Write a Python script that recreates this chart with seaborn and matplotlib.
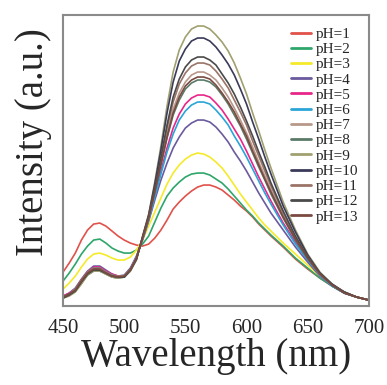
import pandas as pd
import matplotlib
matplotlib.use("Agg")
import matplotlib.pyplot as plt
import seaborn as sns

# -------------------------------
# Spectra (arbitrary intensity units)
# -------------------------------
wavelength = [450, 455, 460, 465, 470, 475, 480, 485, 490, 495,
              500, 505, 510, 515, 520, 525, 530, 535, 540, 545,
              550, 555, 560, 565, 570, 575, 580, 585, 590, 595,
              600, 605, 610, 615, 620, 630, 640, 650, 660, 670, 680, 690, 700]

ph1 = [34, 43, 53, 66, 76, 82, 83, 80, 75, 70, 66, 63, 61, 60, 62, 68, 76, 86, 97, 104,
       110, 115, 119, 121, 121, 119, 116, 111, 106, 100, 95, 89, 82, 76, 70, 59, 47, 37, 28, 20, 13, 9, 6]
ph2 = [25, 33, 42, 52, 60, 66, 67, 63, 58, 55, 53, 53, 56, 62, 70, 84, 98, 110, 118, 124,
       129, 132, 133, 133, 131, 127, 123, 117, 110, 103, 96, 90, 83, 77, 71, 60, 48, 38, 28, 20, 13, 9, 6]
ph3 = [17, 23, 30, 39, 47, 52, 53, 51, 48, 46, 46, 49, 56, 66, 80, 94, 108, 122, 133, 141,
       147, 151, 153, 152, 149, 144, 138, 130, 121, 112, 104, 96, 88, 81, 75, 63, 52, 41, 30, 21, 14, 9, 6]
ph4 = [10, 13, 18, 27, 35, 40, 40, 36, 32, 30, 31, 38, 50, 66, 85, 106, 126, 143, 158, 169,
       178, 183, 186, 186, 184, 179, 172, 164, 154, 145, 135, 124, 113, 103, 93, 76, 59, 44, 30, 20, 13, 9, 6]
ph5 = [10, 13, 17, 26, 34, 39, 39, 35, 32, 30, 30, 37, 49, 67, 87, 111, 135, 158, 178, 192,
       202, 208, 211, 211, 209, 203, 196, 187, 177, 167, 155, 142, 129, 117, 105, 83, 64, 46, 31, 21, 13, 9, 6]
ph6 = [9, 12, 17, 25, 33, 38, 38, 34, 31, 29, 30, 37, 49, 67, 86, 109, 132, 154, 172, 186,
       195, 201, 204, 204, 202, 196, 189, 181, 170, 160, 149, 137, 125, 113, 102, 81, 62, 46, 31, 20, 13, 9, 6]
ph7 = [9, 12, 16, 24, 32, 37, 37, 33, 30, 29, 30, 36, 48, 68, 89, 115, 143, 172, 197, 213,
       224, 231, 234, 234, 231, 226, 218, 209, 198, 186, 173, 159, 144, 130, 116, 90, 68, 48, 32, 21, 14, 9, 6]
ph8 = [8, 11, 15, 23, 31, 35, 35, 32, 29, 28, 29, 35, 47, 68, 88, 114, 141, 168, 191, 206,
       217, 223, 226, 226, 224, 219, 211, 202, 191, 180, 167, 153, 139, 126, 112, 88, 66, 47, 32, 21, 13, 9, 6]
ph9 = [8, 10, 14, 22, 31, 35, 35, 32, 29, 28, 29, 35, 46, 70, 92, 124, 160, 200, 234, 256,
       269, 277, 280, 280, 277, 271, 264, 255, 243, 228, 212, 193, 175, 156, 138, 104, 76, 52, 34, 22, 14, 9, 6]
ph10 = [9, 12, 16, 25, 33, 37, 36, 33, 30, 29, 29, 36, 47, 69, 91, 122, 156, 193, 224, 245,
        257, 265, 268, 268, 265, 259, 251, 242, 231, 217, 202, 184, 167, 149, 132, 100, 74, 51, 33, 22, 14, 9, 6]
ph11 = [9, 12, 17, 26, 34, 38, 38, 34, 31, 30, 30, 37, 48, 68, 89, 117, 147, 178, 204, 222,
        233, 240, 243, 243, 241, 235, 227, 218, 206, 194, 181, 165, 150, 135, 120, 93, 69, 49, 32, 21, 14, 9, 6]
ph12 = [8, 11, 15, 24, 32, 36, 36, 33, 30, 29, 29, 36, 47, 69, 90, 118, 149, 181, 209, 227,
        239, 246, 249, 249, 246, 241, 232, 223, 212, 199, 185, 170, 154, 139, 123, 95, 70, 49, 33, 21, 14, 9, 6]
ph13 = [9, 12, 16, 25, 33, 37, 37, 33, 30, 29, 30, 36, 48, 68, 88, 114, 142, 169, 193, 209,
        220, 226, 229, 229, 227, 221, 213, 204, 194, 182, 170, 155, 141, 127, 114, 89, 67, 48, 32, 21, 13, 9, 6]

labels = ["pH=%d" % i for i in range(1, 14)]
spectra = [ph1, ph2, ph3, ph4, ph5, ph6, ph7, ph8, ph9, ph10, ph11, ph12, ph13]
colors = ["#e0524a", "#2ea66a", "#f5ea2a", "#6a5a9e", "#e8268a", "#2aa5d8", "#b8988a",
          "#5a7a68", "#a0a070", "#3a3a5a", "#9a7468", "#4a4a4a", "#7a4a40"]

rows = []
for lab, vals in zip(labels, spectra):
    for w, v in zip(wavelength, vals):
        rows.append({"Wavelength": w, "Intensity": v, "pH": lab})
df = pd.DataFrame(rows)

# -------------------------------
# Plot
# -------------------------------
sns.set_style("white")
plt.rcParams["font.family"] = ["Liberation Serif", "DejaVu Serif"]

fig = plt.figure(figsize=(3.87, 3.85), dpi=100)
ax = fig.add_axes([0.163, 0.205, 0.79, 0.756])

sns.lineplot(data=df, x="Wavelength", y="Intensity", hue="pH", hue_order=labels,
             palette=colors, linewidth=1.2, ax=ax)

ax.set_xlim(450, 700)
ax.set_ylim(0, 291)
ax.set_xticks([450, 500, 550, 600, 650, 700])
ax.set_yticks([])
ax.tick_params(axis="x", direction="out", length=5, width=1, color="#888888",
               labelsize=15, pad=4)
for s in ax.spines.values():
    s.set_color("#8a8a8a")
    s.set_linewidth(1.5)

ax.set_xlabel("Wavelength (nm)", fontsize=28, labelpad=0)
ax.set_ylabel("Intensity (a.u.)", fontsize=28)
ax.yaxis.set_label_coords(-0.037, 0.564)

leg = ax.legend(loc="upper left", bbox_to_anchor=(0.745, 0.958), frameon=False,
                fontsize=11, handlelength=1.3, handletextpad=0.35,
                labelspacing=0.1, borderpad=0, borderaxespad=0)
for line in leg.get_lines():
    line.set_linewidth(2)

fig.savefig("out.png", dpi=100)
